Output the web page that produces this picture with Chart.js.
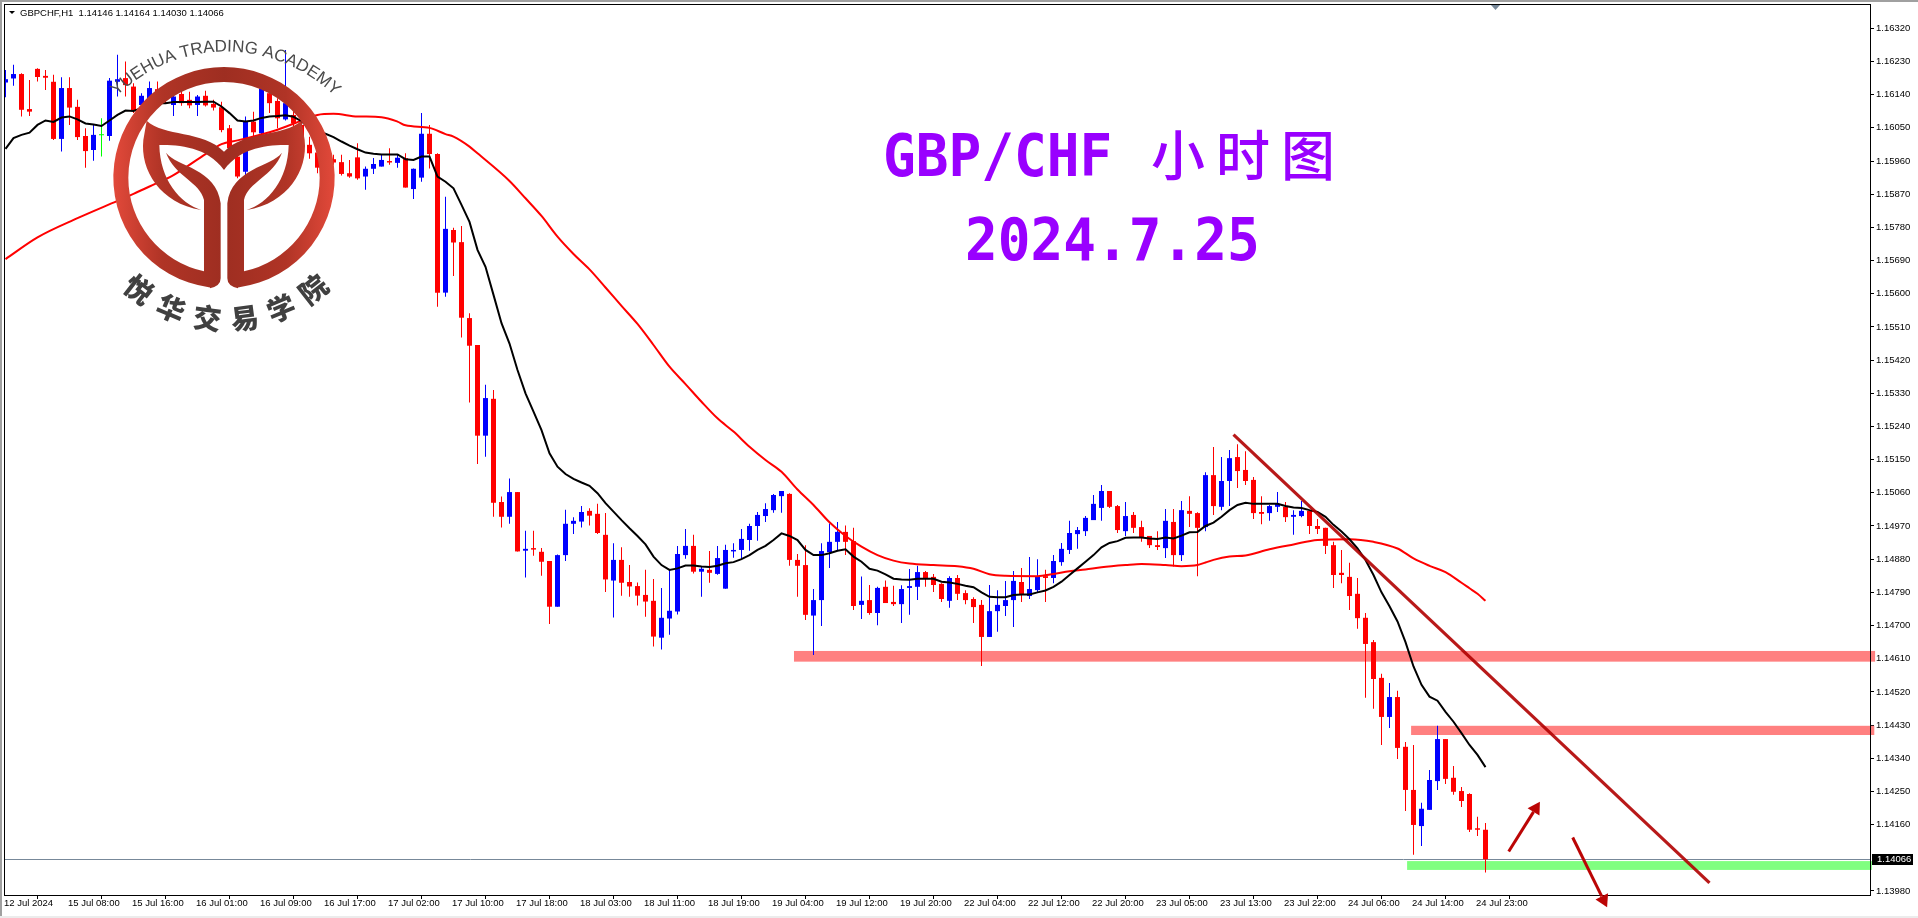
<!DOCTYPE html>
<html>
<head>
<meta charset="utf-8">
<title>GBP/CHF</title>
<script src="https://cdn.jsdelivr.net/npm/chart.js@4"></script>
<style>
    html, body { margin: 0; padding: 0; background: #fff; overflow: hidden; }
    #wrap { width: 1918px; height: 918px; }
</style>
</head>
<body>
<div id="wrap"><canvas id="fxChart"></canvas></div>
<script>
// 1. DATA (one entry per hourly bar)
const opens = [
    1.16173,1.16184,1.16196,1.16101,1.16210,1.16191,1.16175,1.16020,1.16158,1.16107,
    1.16028,1.15990,1.16030,1.16028,1.16175,1.16185,1.16162,1.16112,1.16129,1.16155,
    1.16148,1.16112,1.16142,1.16126,1.16112,1.16137,1.16115,1.16106,1.16049,1.15972,
    1.15931,1.16067,1.16035,1.16144,1.16123,1.16073,1.16085,1.16058,1.16004,1.15983,
    1.15942,1.15965,1.15957,1.15927,1.15970,1.15918,1.15939,1.15945,1.15960,1.15955,
    1.15968,1.15884,1.15915,1.16034,1.15979,1.15603,1.15773,1.15740,1.15534,1.15461,
    1.15215,1.15315,1.15035,1.14995,1.15062,1.14903,1.14910,1.14900,1.14875,1.14751,
    1.14891,1.14976,1.14982,1.15011,1.15003,1.14946,1.14822,1.14878,1.14818,1.14807,
    1.14783,1.14767,1.14667,1.14719,1.14738,1.14891,1.14916,1.14846,1.14851,1.14840,
    1.14800,1.14901,1.14905,1.14932,1.14970,1.14997,1.15013,1.15051,1.15057,1.14878,
    1.14864,1.14727,1.14769,1.14899,1.14927,1.14954,1.14929,1.14756,1.14769,1.14734,
    1.14805,1.14764,1.14758,1.14802,1.14805,1.14845,1.14832,1.14813,1.14767,1.14829,
    1.14788,1.14772,1.14756,1.14669,1.14739,1.14753,1.14769,1.14818,1.14780,1.14796,
    1.14834,1.14829,1.14872,1.14905,1.14948,1.14956,1.14986,1.15019,1.15065,1.15024,
    1.14956,1.15000,1.14967,1.14943,1.14918,1.14910,1.14981,1.14891,1.15011,1.15005,
    1.14967,1.15108,1.15022,1.15092,1.15157,1.15122,1.15095,1.15008,1.15005,1.15022,
    1.15022,1.14995,1.14997,1.15011,1.14970,1.14965,1.14918,1.14843,1.14832,1.14786,
    1.14721,1.14655,1.14558,1.14452,1.14506,1.14371,1.14254,1.14156,1.14200,1.14278,
    1.14392,1.14287,1.14251,1.14243,1.14150,1.14146
];
const highs = [
    1.16207,1.16221,1.16198,1.16180,1.16212,1.16207,1.16194,1.16187,1.16187,1.16126,
    1.16049,1.16058,1.16076,1.16185,1.16248,1.16230,1.16171,1.16144,1.16176,1.16176,
    1.16157,1.16151,1.16153,1.16148,1.16139,1.16151,1.16126,1.16121,1.16058,1.15990,
    1.16081,1.16094,1.16166,1.16153,1.16130,1.16261,1.16099,1.16072,1.16026,1.16008,
    1.15977,1.15977,1.15977,1.15963,1.16008,1.15945,1.15968,1.15977,1.15995,1.15977,
    1.15981,1.15940,1.16090,1.16058,1.15981,1.15863,1.15779,1.15784,1.15547,1.15461,
    1.15353,1.15339,1.15050,1.15099,1.15062,1.14957,1.14957,1.14910,1.14875,1.14893,
    1.15014,1.14994,1.15024,1.15018,1.15030,1.15005,1.14923,1.14912,1.14864,1.14817,
    1.14851,1.14826,1.14802,1.14851,1.14916,1.14962,1.14946,1.14860,1.14902,1.14916,
    1.14919,1.14923,1.14962,1.14976,1.15008,1.15032,1.15057,1.15065,1.15059,1.14894,
    1.14918,1.14799,1.14923,1.14977,1.14981,1.14971,1.14965,1.14833,1.14810,1.14805,
    1.14822,1.14808,1.14809,1.14853,1.14862,1.14848,1.14840,1.14815,1.14834,1.14837,
    1.14796,1.14777,1.14769,1.14810,1.14796,1.14821,1.14848,1.14856,1.14886,1.14880,
    1.14851,1.14891,1.14924,1.14984,1.14967,1.14997,1.15054,1.15081,1.15065,1.15027,
    1.15035,1.15008,1.14984,1.14943,1.14956,1.15016,1.15016,1.15038,1.15051,1.15007,
    1.15116,1.15184,1.15157,1.15176,1.15192,1.15173,1.15103,1.15051,1.15027,1.15062,
    1.15035,1.15013,1.15038,1.15013,1.14989,1.14965,1.14927,1.14905,1.14870,1.14829,
    1.14734,1.14661,1.14569,1.14544,1.14523,1.14384,1.14376,1.14219,1.14308,1.14428,
    1.14392,1.14319,1.14262,1.14245,1.14181,1.14164
];
const lows = [
    1.16133,1.16164,1.16081,1.16082,1.16176,1.16153,1.16017,1.15986,1.16058,1.16017,
    1.15942,1.15961,1.15972,1.16015,1.16135,1.16135,1.16090,1.16103,1.16108,1.16117,
    1.16115,1.16082,1.16110,1.16103,1.16082,1.16108,1.16097,1.16038,1.15972,1.15913,
    1.15922,1.16026,1.16031,1.16090,1.16049,1.16070,1.16049,1.15995,1.15966,1.15927,
    1.15931,1.15950,1.15921,1.15915,1.15909,1.15882,1.15925,1.15945,1.15950,1.15942,
    1.15888,1.15857,1.15904,1.15940,1.15565,1.15592,1.15648,1.15481,1.15305,1.15138,
    1.15158,1.14995,1.14966,1.14976,1.14901,1.14830,1.14889,1.14835,1.14704,1.14751,
    1.14875,1.14948,1.14966,1.14971,1.14948,1.14791,1.14722,1.14781,1.14778,1.14754,
    1.14724,1.14643,1.14635,1.14675,1.14730,1.14881,1.14841,1.14778,1.14816,1.14838,
    1.14800,1.14884,1.14881,1.14903,1.14930,1.14981,1.15006,1.15006,1.14862,1.14778,
    1.14715,1.14620,1.14699,1.14856,1.14902,1.14891,1.14742,1.14718,1.14729,1.14701,
    1.14761,1.14753,1.14707,1.14729,1.14769,1.14805,1.14791,1.14764,1.14748,1.14769,
    1.14758,1.14707,1.14590,1.14669,1.14683,1.14726,1.14696,1.14764,1.14772,1.14791,
    1.14764,1.14815,1.14862,1.14894,1.14908,1.14943,1.14986,1.14984,1.15019,1.14951,
    1.14943,1.14951,1.14927,1.14910,1.14905,1.14883,1.14860,1.14875,1.14967,1.14834,
    1.14956,1.15000,1.15013,1.15024,1.15073,1.15081,1.14989,1.14975,1.14984,1.15008,
    1.14981,1.14946,1.14994,1.14948,1.14948,1.14894,1.14802,1.14815,1.14742,1.14691,
    1.14504,1.14474,1.14376,1.14422,1.14338,1.14197,1.14078,1.14102,1.14200,1.14254,
    1.14270,1.14241,1.14208,1.14140,1.14129,1.14030
];
const closes = [
    1.16182,1.16196,1.16099,1.16094,1.16188,1.16186,1.16020,1.16158,1.16105,1.16025,
    1.15987,1.16031,1.16030,1.16178,1.16182,1.16166,1.16097,1.16137,1.16158,1.16135,
    1.16126,1.16135,1.16117,1.16111,1.16135,1.16111,1.16105,1.16044,1.15995,1.15918,
    1.16067,1.16038,1.16157,1.16117,1.16076,1.16117,1.16062,1.16004,1.15981,1.15942,
    1.15965,1.15956,1.15925,1.15918,1.15913,1.15939,1.15952,1.15963,1.15956,1.15969,
    1.15888,1.15939,1.16034,1.15979,1.15603,1.15776,1.15739,1.15535,1.15459,1.15215,
    1.15317,1.15033,1.14995,1.15062,1.14901,1.14908,1.14906,1.14873,1.14751,1.14891,
    1.14976,1.14984,1.15008,1.14998,1.14951,1.14825,1.14878,1.14816,1.14806,1.14781,
    1.14765,1.14670,1.14721,1.14740,1.14894,1.14916,1.14846,1.14854,1.14843,1.14883,
    1.14905,1.14905,1.14935,1.14970,1.15000,1.15016,1.15054,1.15065,1.14878,1.14862,
    1.14729,1.14769,1.14902,1.14927,1.14954,1.14927,1.14753,1.14767,1.14734,1.14802,
    1.14761,1.14758,1.14799,1.14807,1.14845,1.14829,1.14810,1.14772,1.14829,1.14786,
    1.14769,1.14750,1.14669,1.14739,1.14756,1.14769,1.14821,1.14783,1.14799,1.14834,
    1.14829,1.14875,1.14908,1.14951,1.14959,1.14992,1.15030,1.15065,1.15022,1.14959,
    1.14997,1.14965,1.14940,1.14918,1.14913,1.14984,1.14891,1.15013,1.15003,1.14965,
    1.15108,1.15024,1.15092,1.15154,1.15119,1.15092,1.15005,1.15003,1.15024,1.15030,
    1.14994,1.15000,1.15011,1.14970,1.14962,1.14916,1.14837,1.14837,1.14780,1.14720,
    1.14650,1.14555,1.14452,1.14506,1.14368,1.14254,1.14159,1.14203,1.14281,1.14392,
    1.14284,1.14249,1.14224,1.14146,1.14146,1.14066
];
const blackMa = [
    1.15993,1.16022,1.16031,1.16037,1.16058,1.16070,1.16066,1.16078,1.16081,1.16073,
    1.16062,1.16059,1.16055,1.16070,1.16085,1.16097,1.16096,1.16103,1.16112,1.16117,
    1.16117,1.16120,1.16120,1.16120,1.16120,1.16121,1.16121,1.16108,1.16090,1.16070,
    1.16067,1.16070,1.16077,1.16081,1.16082,1.16084,1.16080,1.16068,1.16049,1.16040,
    1.16034,1.16025,1.16013,1.16002,1.15992,1.15983,1.15980,1.15978,1.15978,1.15978,
    1.15965,1.15963,1.15972,1.15972,1.15918,1.15904,1.15886,1.15841,1.15795,1.15719,
    1.15673,1.15597,1.15520,1.15465,1.15393,1.15330,1.15280,1.15230,1.15167,1.15131,
    1.15111,1.15098,1.15088,1.15079,1.15059,1.15032,1.15009,1.14986,1.14964,1.14943,
    1.14920,1.14887,1.14864,1.14851,1.14855,1.14863,1.14863,1.14860,1.14859,1.14862,
    1.14869,1.14872,1.14880,1.14891,1.14905,1.14916,1.14932,1.14950,1.14943,1.14932,
    1.14905,1.14891,1.14891,1.14896,1.14903,1.14907,1.14887,1.14873,1.14854,1.14849,
    1.14839,1.14827,1.14825,1.14824,1.14827,1.14827,1.14827,1.14819,1.14817,1.14813,
    1.14808,1.14804,1.14790,1.14778,1.14777,1.14777,1.14783,1.14784,1.14784,1.14790,
    1.14795,1.14805,1.14819,1.14837,1.14855,1.14873,1.14891,1.14912,1.14924,1.14929,
    1.14938,1.14939,1.14939,1.14936,1.14935,1.14939,1.14936,1.14944,1.14953,1.14954,
    1.14970,1.14979,1.14995,1.15013,1.15027,1.15033,1.15030,1.15030,1.15030,1.15030,
    1.15024,1.15020,1.15019,1.15013,1.15008,1.14995,1.14973,1.14955,1.14934,1.14909,
    1.14878,1.14837,1.14790,1.14752,1.14711,1.14655,1.14589,1.14539,1.14507,1.14496,
    1.14466,1.14439,1.14408,1.14376,1.14349,1.14316
];
const redMaBars = [
    0,4,9,14,16,18,21,25,27,29,33,36,39,41,44,47,49,50,53,55,56,58,59,63,65,67,69,71,73,75,
    77,79,81,83,85,87,89,91,93,95,97,99,101,103,105,107,109,111,113,116,119,121,123,125,129,
    131,133,135,137,140,142,145,147,149,150,151,153,155,158,161,164,168,171,174,176,178,180,182,183,184,185
];
const redMaVals = [
    1.15694,1.15753,1.15805,1.15852,1.15871,1.15891,1.15922,1.15979,1.16006,1.16016,1.16038,1.16061,
    1.16085,1.16088,1.16081,1.16079,1.16067,1.16057,1.16050,1.16033,1.16026,1.15999,1.15981,1.15906,
    1.15859,1.15811,1.15755,1.15708,1.15666,1.15617,1.15567,1.15518,1.15461,1.15402,1.15355,1.15307,
    1.15262,1.15226,1.15185,1.15149,1.15117,1.15069,1.15027,1.14980,1.14943,1.14914,1.14891,1.14876,
    1.14868,1.14864,1.14861,1.14854,1.14839,1.14835,1.14834,1.14840,1.14847,1.14852,1.14858,1.14864,
    1.14867,1.14864,1.14861,1.14864,1.14871,1.14878,1.14887,1.14890,1.14907,1.14920,1.14932,1.14934,1.14927,
    1.14909,1.14882,1.14862,1.14845,1.14816,1.14801,1.14786,1.14767
];
const timeLabels = [
    '12 Jul 2024','15 Jul 08:00','15 Jul 16:00','16 Jul 01:00','16 Jul 09:00','16 Jul 17:00',
    '17 Jul 02:00','17 Jul 10:00','17 Jul 18:00','18 Jul 03:00','18 Jul 11:00','18 Jul 19:00',
    '19 Jul 04:00','19 Jul 12:00','19 Jul 20:00','22 Jul 04:00','22 Jul 12:00','22 Jul 20:00',
    '23 Jul 05:00','23 Jul 13:00','23 Jul 22:00','24 Jul 06:00','24 Jul 14:00','24 Jul 23:00'
];
const priceTicks = [
    1.16320,1.16230,1.16140,1.16050,1.15960,1.15870,1.15780,1.15690,1.15600,1.15510,1.15420,1.15330,1.15240,
    1.15150,1.15060,1.14970,1.14880,1.14790,1.14700,1.14610,1.14520,1.14430,1.14340,1.14250,1.14160,1.13980
];
const lastPrice = 1.14066;
const headerText = 'GBPCHF,H1  1.14146 1.14164 1.14030 1.14066';

// hand drawn objects on the chart: [fromBar, priceA, toBar, priceB]
const zonePink1 = [98.56, 1.14631, 233.7, 1.14602];
const zonePink2 = [175.7, 1.14428, 233.6, 1.14403];
const zoneGreen = [175.2, 1.14061, 233.3, 1.14037];
const trendLine = [153.5, 1.15218, 213, 1.14002];
const arrowUp = [187.9, 1.14087, 191.8, 1.14222];
const arrowDown = [195.9, 1.14125, 200.2, 1.13936];

// 2. HELPERS
const barColor = (i) => {
    if (closes[i] > opens[i]) return '#0000ff';
    if (closes[i] < opens[i]) return '#ff0000';
    return '#00ff00';
};
const axisFont = { family: "'Liberation Sans', sans-serif", size: 9.5 };

function drawArrow(ctx, x0, y0, x1, y1) {
    const ang = Math.atan2(y1 - y0, x1 - x0);
    const backX = x1 - Math.cos(ang) * 12;
    const backY = y1 - Math.sin(ang) * 12;
    ctx.strokeStyle = '#bb0505';
    ctx.fillStyle = '#bb0505';
    ctx.lineWidth = 3;
    ctx.beginPath();
    ctx.moveTo(x0, y0);
    ctx.lineTo(backX, backY);
    ctx.stroke();
    ctx.beginPath();
    ctx.moveTo(x1, y1);
    ctx.lineTo(backX + Math.sin(ang) * 7, backY - Math.cos(ang) * 7);
    ctx.lineTo(backX - Math.sin(ang) * 7, backY + Math.cos(ang) * 7);
    ctx.closePath();
    ctx.fill();
}

function drawLogoHalf(ctx) {
    // ring half running into the stem and the inner leaf
    ctx.beginPath();
    ctx.arc(672, 533, 332, Math.atan2(329, -42), Math.PI * 1.5, false);
    ctx.lineTo(672, 246);
    ctx.arc(672, 533, 287, Math.PI * 1.5, Math.atan2(280.6, -60), true);
    ctx.lineTo(612, 600);
    ctx.bezierCurveTo(600, 545, 525, 530, 498, 458);
    ctx.bezierCurveTo(530, 500, 650, 505, 662, 610);
    ctx.lineTo(662, 835);
    ctx.quadraticCurveTo(662, 858, 630, 865);
    ctx.closePath();
    ctx.fill();
    // crown
    ctx.beginPath();
    ctx.moveTo(440, 362);
    ctx.bezierCurveTo(490, 410, 610, 390, 672, 455);
    ctx.lineTo(672, 510);
    ctx.bezierCurveTo(620, 440, 540, 435, 478, 435);
    ctx.bezierCurveTo(480, 540, 540, 610, 604, 630);
    ctx.bezierCurveTo(480, 610, 420, 510, 430, 420);
    ctx.closePath();
    ctx.fill();
}

function drawLogo(ctx) {
    ctx.save();
    ctx.scale(1 / 3, 1 / 3);
    const g = ctx.createLinearGradient(340, 0, 1005, 0);
    g.addColorStop(0, '#e2493a');
    g.addColorStop(0.22, '#b03426');
    g.addColorStop(0.5, '#9e2e21');
    g.addColorStop(0.78, '#b03426');
    g.addColorStop(1, '#e2493a');
    ctx.fillStyle = g;
    drawLogoHalf(ctx);
    ctx.translate(1344, 0);
    ctx.scale(-1, 1);
    drawLogoHalf(ctx);
    ctx.restore();

    // english name on the upper arc
    const en = 'YUEHUA TRADING ACADEMY';
    ctx.save();
    ctx.font = "17px 'Liberation Sans', sans-serif";
    ctx.fillStyle = '#4a4a4a';
    ctx.textAlign = 'center';
    ctx.textBaseline = 'alphabetic';
    const cx = 225.7, cy = 207.3, r = 155.7;
    const total = ctx.measureText(en).width;
    let run = -total / 2;
    for (const ch of en) {
        const w = ctx.measureText(ch).width;
        const a = (run + w / 2) / r;
        ctx.save();
        ctx.translate(cx + Math.sin(a) * r, cy - Math.cos(a) * r);
        ctx.rotate(a);
        ctx.fillText(ch, 0, 0);
        ctx.restore();
        run += w;
    }
    ctx.restore();

    // chinese name on the lower arc
    const zh = ['悦', '华', '交', '易', '学', '院'];
    const zhAngles = [38, 22.8, 7.6, -7.6, -22.8, -38];
    ctx.save();
    ctx.font = "900 28px 'Noto Sans CJK SC', sans-serif";
    ctx.fillStyle = '#404040';
    ctx.textAlign = 'center';
    ctx.textBaseline = 'middle';
    zh.forEach((ch, i) => {
        const a = zhAngles[i] * Math.PI / 180;
        ctx.save();
        ctx.translate(226 - Math.sin(a) * 141.7, 177.7 + Math.cos(a) * 141.7);
        ctx.rotate(a);
        ctx.fillText(ch, 0, 0);
        ctx.restore();
    });
    ctx.restore();
}

// 3. PLUGIN FOR THE TERMINAL FRAME AND THE DRAWN OBJECTS
const terminalPlugin = {
    id: 'terminal',
    beforeDraw(chart) {
        const ctx = chart.ctx;
        ctx.save();
        ctx.fillStyle = '#ffffff';
        ctx.fillRect(0, 0, 1918, 918);
        ctx.fillStyle = '#a0a0a0';
        ctx.fillRect(0, 0, 1918, 2);
        ctx.fillRect(0, 0, 2, 918);
        ctx.fillStyle = '#ececec';
        ctx.fillRect(0, 916, 1918, 2);
        ctx.restore();
    },
    beforeDatasetsDraw(chart) {
        const { ctx, scales: { x, y } } = chart;
        const zone = (z, color) => {
            ctx.fillStyle = color;
            ctx.fillRect(x.getPixelForValue(z[0]), y.getPixelForValue(z[1]),
                x.getPixelForValue(z[2]) - x.getPixelForValue(z[0]), y.getPixelForValue(z[3]) - y.getPixelForValue(z[1]));
        };
        ctx.save();
        zone(zonePink1, '#ff8080');
        zone(zonePink2, '#ff8080');
        zone(zoneGreen, '#80ff80');
        const py = Math.round(y.getPixelForValue(lastPrice)) + 0.5;
        ctx.strokeStyle = '#778899';
        ctx.lineWidth = 1;
        ctx.beginPath();
        ctx.moveTo(chart.chartArea.left, py);
        ctx.lineTo(chart.chartArea.right, py);
        ctx.stroke();
        ctx.restore();
    },
    afterDatasetsDraw(chart) {
        const { ctx, chartArea: a, scales: { x, y } } = chart;
        ctx.save();
        // box round the plot
        ctx.strokeStyle = '#000000';
        ctx.lineWidth = 1;
        ctx.strokeRect(a.left + 0.5, a.top + 0.5, a.right - a.left, a.bottom - a.top);

        // shift marker at the top
        ctx.fillStyle = '#778899';
        ctx.beginPath();
        ctx.moveTo(1491, 5);
        ctx.lineTo(1500, 5);
        ctx.lineTo(1495.5, 10);
        ctx.closePath();
        ctx.fill();

        // trend line
        ctx.strokeStyle = 'rgba(176,0,0,0.9)';
        ctx.lineWidth = 3.2;
        ctx.beginPath();
        ctx.moveTo(x.getPixelForValue(trendLine[0]), y.getPixelForValue(trendLine[1]));
        ctx.lineTo(x.getPixelForValue(trendLine[2]), y.getPixelForValue(trendLine[3]));
        ctx.stroke();

        drawArrow(ctx, x.getPixelForValue(arrowUp[0]), y.getPixelForValue(arrowUp[1]), x.getPixelForValue(arrowUp[2]), y.getPixelForValue(arrowUp[3]));
        drawArrow(ctx, x.getPixelForValue(arrowDown[0]), y.getPixelForValue(arrowDown[1]), x.getPixelForValue(arrowDown[2]), y.getPixelForValue(arrowDown[3]));

        drawLogo(ctx);

        // titles
        ctx.fillStyle = '#9900ff';
        ctx.textBaseline = 'alphabetic';
        ctx.textAlign = 'left';
        ctx.save();
        ctx.translate(883, 176);
        ctx.scale(0.93, 1);
        ctx.font = "700 58.5px 'DejaVu Sans Mono', monospace";
        ctx.fillText('GBP/CHF', 0, 0);
        ctx.restore();
        ctx.save();
        ctx.translate(965, 260);
        ctx.scale(0.93, 1);
        ctx.font = "700 58.5px 'DejaVu Sans Mono', monospace";
        ctx.fillText('2024.7.25', 0, 0);
        ctx.restore();
        ctx.font = "500 54px 'Noto Sans CJK SC', sans-serif";
        ctx.textAlign = 'center';
        ctx.textBaseline = 'middle';
        ctx.fillText('小', 1178, 155);
        ctx.fillText('时', 1243, 155);
        ctx.fillText('图', 1308, 155);

        // header line
        ctx.fillStyle = '#000000';
        ctx.beginPath();
        ctx.moveTo(9, 11);
        ctx.lineTo(15, 11);
        ctx.lineTo(12, 14);
        ctx.closePath();
        ctx.fill();
        ctx.font = "9.5px 'Liberation Sans', sans-serif";
        ctx.textAlign = 'left';
        ctx.textBaseline = 'middle';
        ctx.fillText(headerText, 20, 13);

        // last price box on the axis
        const ly = Math.round(y.getPixelForValue(lastPrice));
        ctx.fillStyle = '#000000';
        ctx.fillRect(1872, ly - 5, 41, 11);
        ctx.fillStyle = '#ffffff';
        ctx.font = "9.5px 'Liberation Sans', sans-serif";
        ctx.fillText(lastPrice.toFixed(5), 1877, ly + 0.5);
        ctx.restore();
    }
};

// 4. CHART
const barIndex = opens.map((_, i) => i);

new Chart(document.getElementById('fxChart').getContext('2d'), {
    type: 'bar',
    data: {
        datasets: [
            {
                type: 'line',
                label: 'MA fast',
                data: barIndex.map((i) => ({ x: i, y: blackMa[i] })),
                borderColor: '#000000',
                borderWidth: 2,
                pointRadius: 0,
                order: 1
            },
            {
                type: 'line',
                label: 'MA slow',
                data: redMaBars.map((b, i) => ({ x: b, y: redMaVals[i] })),
                borderColor: '#ff0000',
                borderWidth: 2,
                pointRadius: 0,
                cubicInterpolationMode: 'monotone',
                order: 2
            },
            {
                label: 'Body',
                data: barIndex.map((i) => ({ x: i, y: [opens[i], closes[i]] })),
                backgroundColor: barIndex.map(barColor),
                barThickness: 5,
                minBarLength: 1,
                grouped: false,
                inflateAmount: 0,
                borderSkipped: false,
                order: 3
            },
            {
                label: 'Wick',
                data: barIndex.map((i) => ({ x: i, y: [lows[i], highs[i]] })),
                backgroundColor: barIndex.map(barColor),
                barThickness: 1,
                grouped: false,
                inflateAmount: 0,
                borderSkipped: false,
                order: 4
            }
        ]
    },
    options: {
        responsive: true,
        maintainAspectRatio: false,
        animation: false,
        layout: { padding: { left: 4, top: 4, right: 0, bottom: 0 } },
        plugins: { legend: { display: false }, tooltip: { enabled: false } },
        scales: {
            x: {
                type: 'linear',
                min: -0.1875,
                max: 233.0625,
                offset: false,
                grid: { drawOnChartArea: false, color: '#000000', tickLength: 4 },
                border: { display: false },
                ticks: {
                    font: axisFont,
                    color: '#000000',
                    padding: -1,
                    labelOffset: -1.5,
                    maxRotation: 0,
                    autoSkip: false,
                    align: 'start',
                    callback: (v) => timeLabels[v / 8]
                },
                afterBuildTicks: (s) => { s.ticks = timeLabels.map((_, i) => ({ value: i * 8 })); },
                afterFit: (s) => { s.height = 23; s.paddingLeft = 0; s.paddingRight = 0; s.paddingTop = 0; s.paddingBottom = 0; }
            },
            y: {
                position: 'right',
                min: 1.13969,
                max: 1.16386,
                grid: { drawOnChartArea: false, color: '#000000', tickLength: 4 },
                border: { display: false },
                ticks: {
                    font: axisFont,
                    color: '#000000',
                    padding: 2,
                    autoSkip: false,
                    callback: (v) => v.toFixed(5)
                },
                afterBuildTicks: (s) => { s.ticks = priceTicks.map((v) => ({ value: v })); },
                afterFit: (s) => { s.width = 48; s.paddingLeft = 0; s.paddingRight = 0; s.paddingTop = 0; s.paddingBottom = 0; }
            }
        }
    },
    plugins: [terminalPlugin]
});
</script>
</body>
</html>
